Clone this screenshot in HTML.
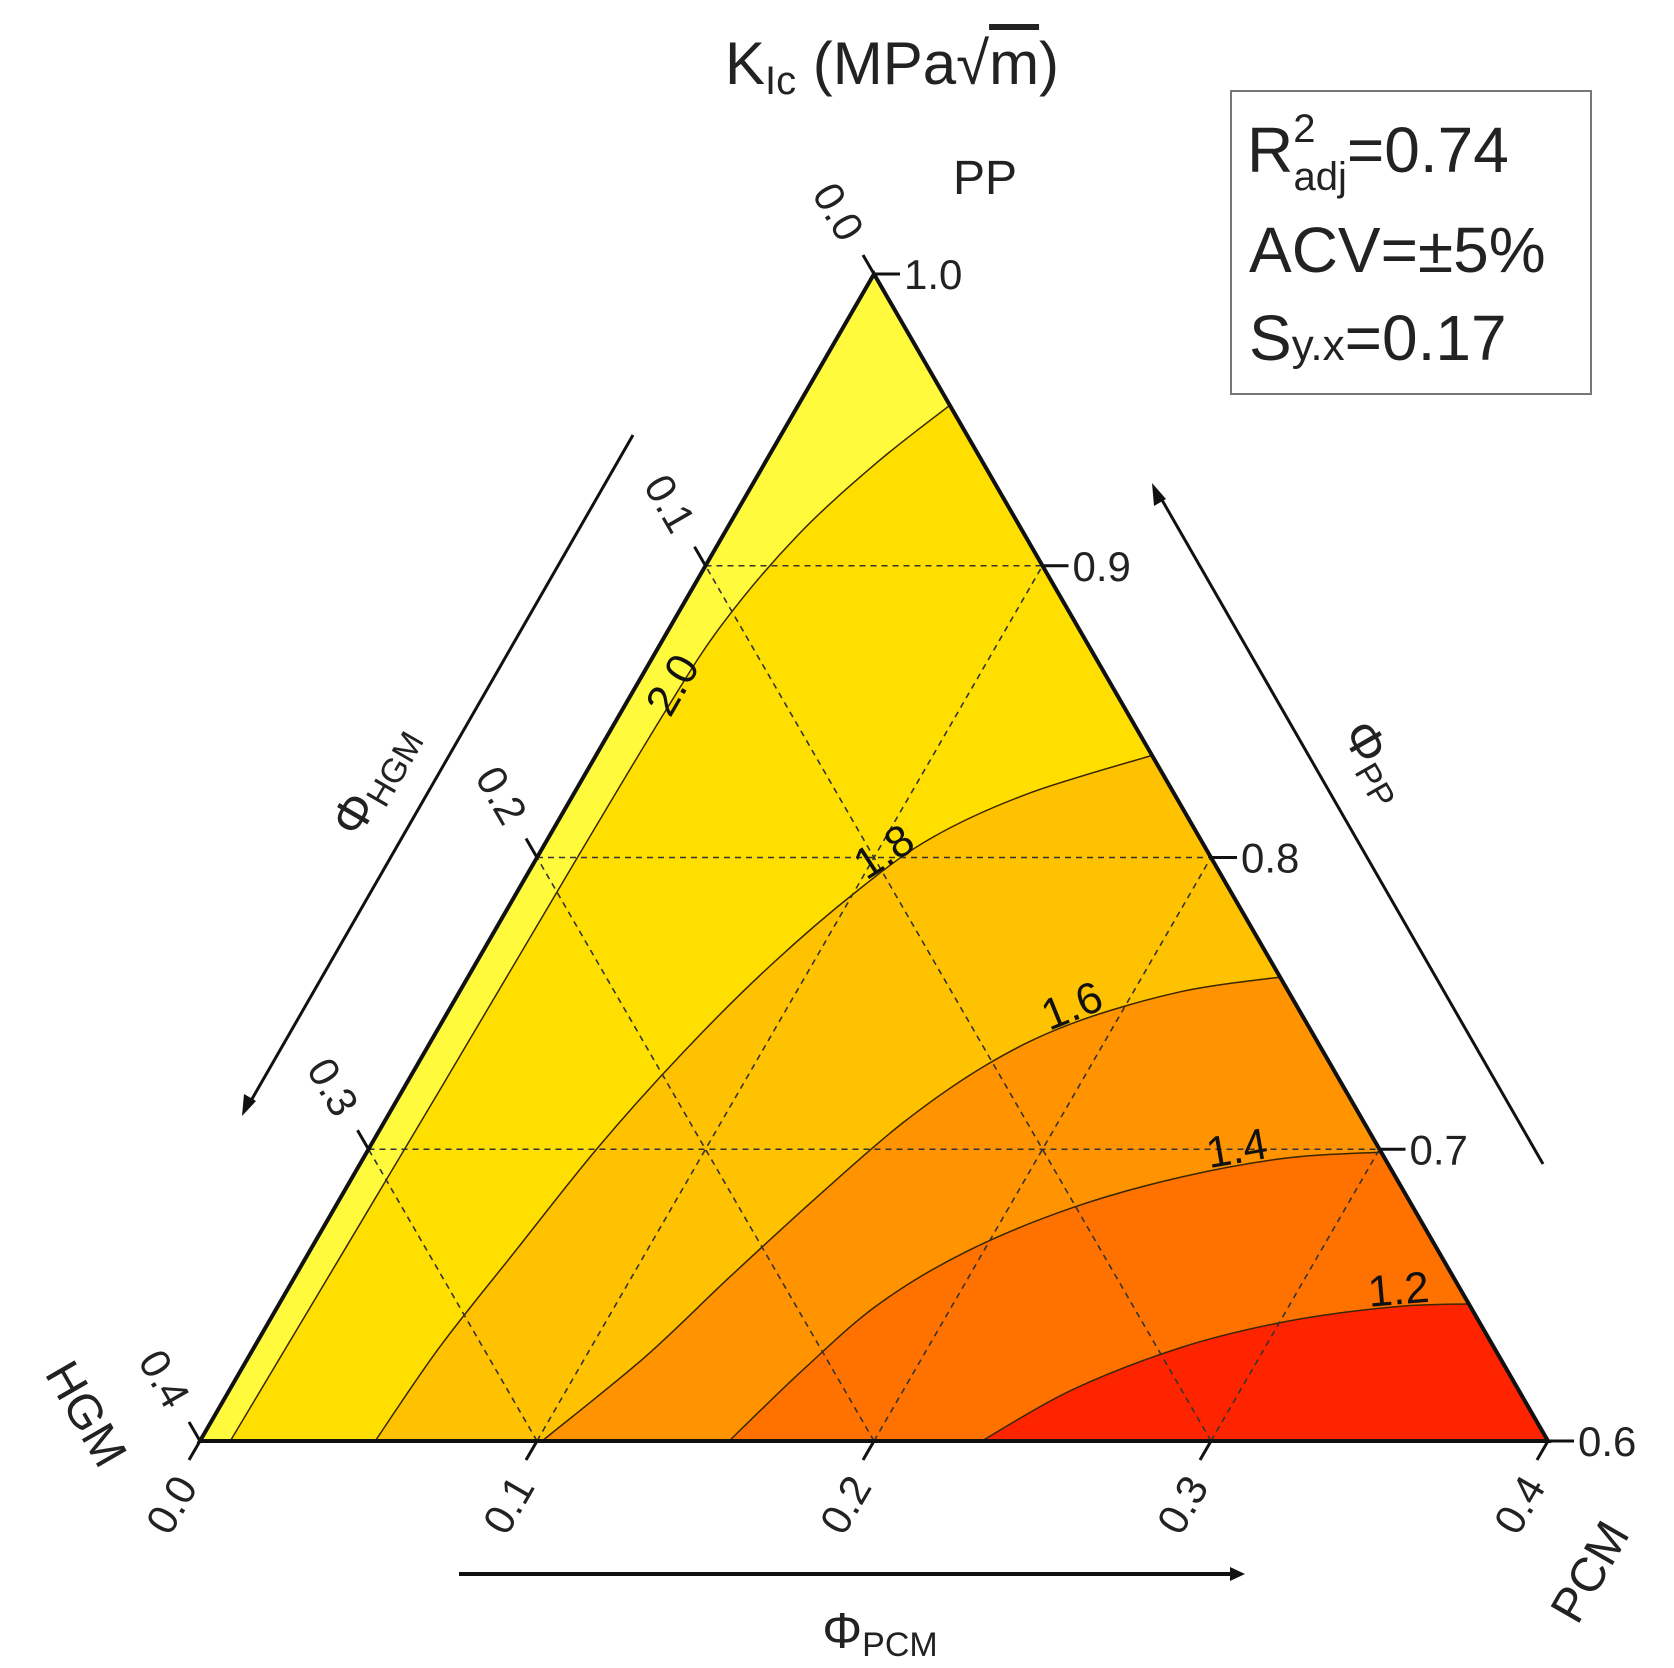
<!DOCTYPE html>
<html><head><meta charset="utf-8">
<style>
html,body{margin:0;padding:0;background:#fff;}
svg{display:block;font-family:"Liberation Sans",Arial,sans-serif;}
</style></head>
<body>
<svg id="chart" width="1674" height="1668" viewBox="0 0 1674 1668" xmlns="http://www.w3.org/2000/svg">
<g id="fills"></g>
<g id="lines"></g>
<g id="grid"></g>
<g id="frame"></g>
<g id="ticks"></g>
<g id="clabels"></g>

<text x="892" y="84" text-anchor="middle" font-size="60" fill="#222">K<tspan font-size="40" dy="10">Ic</tspan><tspan dy="-10"> (MPa√</tspan><tspan text-decoration="overline">m</tspan>)</text>

<g>
<rect x="1231" y="91" width="360" height="303" fill="#fff" stroke="#777" stroke-width="2"/>
<text x="1247" y="172" font-size="64" fill="#222">R<tspan font-size="40" dy="-30">2</tspan><tspan font-size="40" dx="-22" dy="48">adj</tspan><tspan dy="-18">=0.74</tspan></text>
<text x="1249" y="272" font-size="64" fill="#222">ACV=±5%</text>
<text x="1249" y="360" font-size="64" fill="#222">S<tspan font-size="44">y.x</tspan>=0.17</text>
</g>

<text x="985" y="194" text-anchor="middle" font-size="48" fill="#222">PP</text>
<text transform="translate(72,1422) rotate(60)" text-anchor="middle" font-size="48" fill="#222">HGM</text>
<text transform="translate(1604,1580) rotate(-60)" text-anchor="middle" font-size="48" fill="#222">PCM</text>

<g>
<line x1="633" y1="435" x2="248" y2="1106" stroke="#111" stroke-width="3"/>
<polygon points="242,1116 244,1094 256,1101" fill="#111"/>
<text transform="translate(388,788) rotate(-60)" text-anchor="middle" font-size="50" fill="#222">Φ<tspan font-size="34" dy="8">HGM</tspan></text>
</g>
<g>
<line x1="1543" y1="1164" x2="1158" y2="493" stroke="#111" stroke-width="3"/>
<polygon points="1152,483 1166,499 1154,506" fill="#111"/>
<text transform="translate(1362,770) rotate(60)" text-anchor="middle" font-size="50" fill="#222">Φ<tspan font-size="34" dy="8">PP</tspan></text>
</g>
<g>
<line x1="459" y1="1574" x2="1232" y2="1574" stroke="#111" stroke-width="4"/>
<polygon points="1245,1574 1230,1567 1230,1581" fill="#111"/>
<text x="880" y="1648" text-anchor="middle" font-size="50" fill="#222">Φ<tspan font-size="34" dy="8">PCM</tspan></text>
</g>
</svg>

<script>
// Contour data: [PP fraction, PCM fraction] along each iso-line
const levels = [2.0, 1.8, 1.6, 1.4, 1.2];
const c20pp  = [0.955, 0.935, 0.910, 0.880, 0.850, 0.800, 0.720, 0.600];
const c20pcm = [0.045, 0.033, 0.022, 0.015, 0.013, 0.012, 0.011, 0.009];
const c18pp  = [0.835, 0.822, 0.807, 0.789, 0.7635, 0.734, 0.7015, 0.665, 0.632, 0.600];
const c18pcm = [0.165, 0.135, 0.114, 0.101, 0.088, 0.077, 0.068, 0.061, 0.055, 0.052];
const c16pp  = [0.759, 0.754, 0.743, 0.729, 0.709, 0.683, 0.656, 0.6285, 0.600];
const c16pcm = [0.241, 0.214, 0.187, 0.169, 0.154, 0.141, 0.129, 0.1175, 0.1015];
const c14pp  = [0.699, 0.697, 0.6905, 0.680, 0.665, 0.647, 0.625, 0.600];
const c14pcm = [0.301, 0.274, 0.246, 0.219, 0.195, 0.178, 0.167, 0.157];
const c12pp  = [0.647, 0.646, 0.641, 0.632, 0.6175, 0.600];
const c12pcm = [0.353, 0.3315, 0.302, 0.275, 0.250, 0.232];
const bandColors = ["#FFFA3C", "#FFDF00", "#FFC200", "#FF9300", "#FF7200", "#FF2400"];
const ppTicks  = [0.6, 0.7, 0.8, 0.9, 1.0];
const pcmTicks = [0.0, 0.1, 0.2, 0.3, 0.4];
const hgmTicks = [0.0, 0.1, 0.2, 0.3, 0.4];
const labelPos = [[0.858,0.013,-60],[0.800,0.104,-33],[0.747,0.186,-22],[0.698,0.259,-10],[0.6496,0.331,-5]];

const NS = "http://www.w3.org/2000/svg";
const A = [200,1441], B = [1548,1441], C = [874,274];
function P(pp, pcm){
  const a = (pp-0.6)/0.4, b = pcm/0.4, c = 1-a-b;
  return [a*C[0]+b*B[0]+c*A[0], a*C[1]+b*B[1]+c*A[1]];
}
function mk(tag, attrs, parent){
  const e = document.createElementNS(NS, tag);
  for (const k in attrs) e.setAttribute(k, attrs[k]);
  parent.appendChild(e); return e;
}
function smooth(pts){
  let d = "M"+pts[0][0].toFixed(1)+","+pts[0][1].toFixed(1);
  for (let i=0;i<pts.length-1;i++){
    const p0=pts[Math.max(i-1,0)], p1=pts[i], p2=pts[i+1], p3=pts[Math.min(i+2,pts.length-1)];
    const c1=[p1[0]+(p2[0]-p0[0])/6, p1[1]+(p2[1]-p0[1])/6];
    const c2=[p2[0]-(p3[0]-p1[0])/6, p2[1]-(p3[1]-p1[1])/6];
    d += " C"+c1[0].toFixed(1)+","+c1[1].toFixed(1)+" "+c2[0].toFixed(1)+","+c2[1].toFixed(1)+" "+p2[0].toFixed(1)+","+p2[1].toFixed(1);
  }
  return d;
}
const fills = document.getElementById("fills"), lines = document.getElementById("lines");
const grid = document.getElementById("grid"), frame = document.getElementById("frame");
const ticks = document.getElementById("ticks"), clabels = document.getElementById("clabels");
const tri = A.join(",")+" "+B.join(",")+" "+C.join(",");
const bg = mk("polygon", {points: tri, fill: bandColors[0]}, fills);


const curvesPP = [c20pp, c18pp, c16pp, c14pp, c12pp];
const curvesPCM = [c20pcm, c18pcm, c16pcm, c14pcm, c12pcm];
curvesPP.forEach((cpp, i) => {
  const pts = cpp.map((v, j) => P(v, curvesPCM[i][j]));
  const d = smooth(pts);
  const f = mk("path", {d: d + " L"+B[0]+","+B[1]+" Z", fill: bandColors[i+1]}, fills);
  
  
  const l = mk("path", {d: d, fill: "none", stroke: "#3a2600", "stroke-width": 1.5}, lines);
  
  
});
[0.7,0.8,0.9].forEach(v => {
  const p1 = P(v, 0), p2 = P(v, 1-v);
  const g = mk("line", {x1:p1[0],y1:p1[1],x2:p2[0],y2:p2[1],stroke:"#333","stroke-width":1.6,"stroke-dasharray":"6,5"}, grid);
  
  
});
[0.1,0.2,0.3].forEach(v => {
  const p1 = P(0.6, v), p2 = P(1-v, v);
  const g = mk("line", {x1:p1[0],y1:p1[1],x2:p2[0],y2:p2[1],stroke:"#333","stroke-width":1.6,"stroke-dasharray":"6,5"}, grid);
  
  
  const q1 = P(0.6, 0.4-v), q2 = P(1-v, 0);
  const h = mk("line", {x1:q1[0],y1:q1[1],x2:q2[0],y2:q2[1],stroke:"#333","stroke-width":1.6,"stroke-dasharray":"6,5"}, grid);
  
  
});
const fr = mk("polygon", {points: tri, fill: "none", stroke: "#111", "stroke-width": 4, "stroke-linejoin": "miter"}, frame);


ppTicks.forEach(v => {
  const p = P(v, 1-v);
  const t = mk("line", {x1:p[0],y1:p[1],x2:p[0]+26,y2:p[1],stroke:"#111","stroke-width":3}, ticks);
  
  
  const tx = mk("text", {x:p[0]+30,y:p[1]+15,"font-size":42,fill:"#222"}, ticks);
  tx.textContent = v.toFixed(1);
  
  
});
hgmTicks.forEach(v => {
  const p = P(1-v, 0);
  const t = mk("line", {x1:p[0],y1:p[1],x2:p[0]-11,y2:p[1]-19,stroke:"#111","stroke-width":3}, ticks);
  
  
  const tx = mk("text", {transform:"translate("+(p[0]-36)+","+(p[1]-62)+") rotate(60)","text-anchor":"middle","font-size":42,fill:"#222",dy:14}, ticks);
  tx.textContent = v.toFixed(1);
  
  
});
pcmTicks.forEach(v => {
  const p = P(0.6, v);
  const t = mk("line", {x1:p[0],y1:p[1],x2:p[0]-11,y2:p[1]+19,stroke:"#111","stroke-width":3}, ticks);
  
  
  const tx = mk("text", {transform:"translate("+(p[0]-28)+","+(p[1]+64)+") rotate(-60)","text-anchor":"middle","font-size":42,fill:"#222",dy:14}, ticks);
  tx.textContent = v.toFixed(1);
  
  
});
labelPos.forEach((lp, i) => {
  const p = P(lp[0], lp[1]);
  const tx = mk("text", {transform:"translate("+p[0]+","+p[1]+") rotate("+lp[2]+")","text-anchor":"middle","font-size":44,fill:"#111",dy:8}, clabels);
  tx.textContent = levels[i].toFixed(1);
  
  
});
</script>
</body></html>
